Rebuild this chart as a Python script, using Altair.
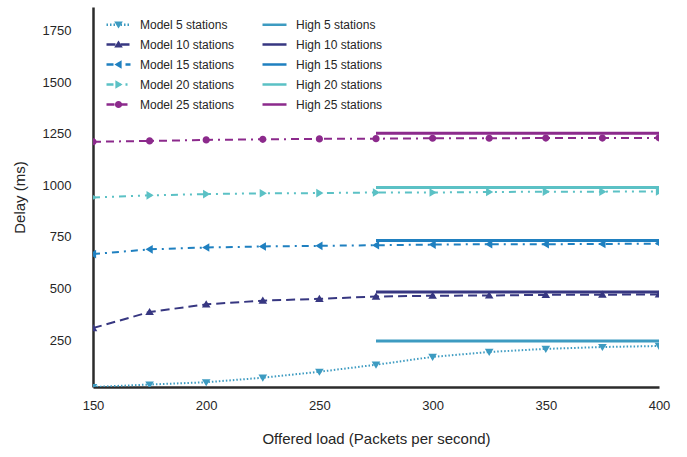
import altair as alt
import pandas as pd

# ---------------- data ----------------
x_load = [150, 175, 200, 225, 250, 275, 300, 325, 350, 375, 400]
stations = [5, 10, 15, 20, 25]
model_5 = [22, 34, 45, 67, 96, 130, 168, 192, 207, 216, 221]
model_10 = [308, 386, 423, 441, 450, 461, 465, 466, 469, 470, 471]
model_15 = [667, 690, 699, 704, 707, 710, 713, 715, 715, 716, 718]
model_20 = [942, 952, 958, 962, 963, 966, 966, 968, 970, 970, 971]
model_25 = [1212, 1216, 1221, 1224, 1226, 1227, 1229, 1229, 1230, 1230, 1231]
model_vals = [model_5, model_10, model_15, model_20, model_25]
high_x = [275, 400]
high_vals = [245, 483, 733, 990, 1253]
x_ticks = [150, 200, 250, 300, 350, 400]
y_ticks = [250, 500, 750, 1000, 1250, 1500, 1750]

rows = []
for n, vals in zip(stations, model_vals):
    for xv, yv in zip(x_load, vals):
        rows.append({"x": xv, "y": yv, "series": f"Model {n} stations", "kind": "Model"})
for n, hv in zip(stations, high_vals):
    for xv in high_x:
        rows.append({"x": xv, "y": hv, "series": f"High {n} stations", "kind": "High"})
df = pd.DataFrame(rows)

# ---------------- styles ----------------
colors = {5: "#3d9bc1", 10: "#373781", 15: "#1f80c0", 20: "#5bc1c5", 25: "#8c2a8c"}
dash_model = {5: [1.5, 2], 10: [9, 5], 15: [7, 5, 2, 5], 20: [7, 5, 2, 5, 2, 5], 25: [8, 5, 8, 5, 2, 5]}
# marker outlines inside the unit box (scaled by the symbol size)
marker = {
    5: "M-0.36,-0.26L0.36,-0.26L0,0.34Z",
    10: "M-0.36,0.26L0.36,0.26L0,-0.34Z",
    15: "M0.26,-0.36L0.26,0.36L-0.34,0Z",
    20: "M-0.26,-0.36L-0.26,0.36L0.34,0Z",
    25: "M-0.3,0A0.3,0.3 0 1,0 0.3,0A0.3,0.3 0 1,0 -0.3,0Z",
}

model_order = [f"Model {n} stations" for n in stations]
high_order = [f"High {n} stations" for n in stations]
order = model_order + high_order
color_range = [colors[n] for n in stations] * 2
dash_range = [dash_model[n] for n in stations] + [[1, 0]] * len(stations)
model_colors = [colors[n] for n in stations]
shape_range = [marker[n] for n in stations]

FONT = "Liberation Sans"
TXT = "#262626"
SYM = 576

line_legend = alt.Legend(
    title=None, orient="none", legendX=12, legendY=4,
    columns=2, columnPadding=22, rowPadding=-9,
    symbolType="stroke", symbolSize=SYM, symbolStrokeWidth=2.5,
    labelFontSize=12, labelFont=FONT, labelColor=TXT, labelOffset=8,
    padding=0,
)

marker_legend = alt.Legend(
    title=None, orient="none", legendX=12, legendY=4,
    columns=1, rowPadding=-9,
    symbolSize=SYM, symbolStrokeWidth=2.5,
    labelFontSize=12, labelFont=FONT, labelExpr="''", labelOffset=8,
    padding=0, zindex=2,
)

x_enc = alt.X("x:Q", scale=alt.Scale(domain=[150, 400], nice=False, zero=False),
              axis=alt.Axis(title="Offered load (Packets per second)", values=x_ticks,
                            labelFlush=False, labelPadding=12, titlePadding=19))
y_enc = alt.Y("y:Q", scale=alt.Scale(domain=[22, 1866], nice=False, zero=False),
              axis=alt.Axis(title="Delay (ms)", values=y_ticks, format="d", labelFlush=False,
                            labelPadding=22, titlePadding=15))

lines = alt.Chart(df).mark_line(clip=True).encode(
    x=x_enc,
    y=y_enc,
    color=alt.Color("series:N", scale=alt.Scale(domain=order, range=color_range), legend=line_legend),
    strokeDash=alt.StrokeDash("series:N", scale=alt.Scale(domain=order, range=dash_range), legend=line_legend),
    strokeWidth=alt.condition("datum.kind === 'High'", alt.value(3), alt.value(2)),
    order=alt.Order("x:Q"),
)

points = alt.Chart(df).transform_filter("datum.kind === 'Model'").mark_point(
    filled=True, opacity=1, size=SYM, clip=True
).encode(
    x=x_enc,
    y=y_enc,
    color=alt.Color("series:N", scale=alt.Scale(domain=model_order, range=model_colors), legend=marker_legend),
    shape=alt.Shape("series:N", scale=alt.Scale(domain=model_order, range=shape_range), legend=marker_legend),
)

chart = (
    alt.layer(lines, points)
    .resolve_scale(color="independent", shape="independent", strokeDash="independent")
    .properties(width=566, height=380, autosize=alt.AutoSizeParams(type="none"),
                padding={"left": 93, "top": 7, "right": 28, "bottom": 70},
                background="white")
    .configure_view(stroke=None)
    .configure_axis(
        grid=False, ticks=False, domainColor="#2b2b2b", domainWidth=2.5,
        labelFont=FONT, labelFontSize=13, labelColor=TXT,
        titleFont=FONT, titleFontSize=15, titleFontWeight="normal", titleColor=TXT,
    )
)

chart.save("out.html", embed_options={"renderer": "svg", "actions": False})
